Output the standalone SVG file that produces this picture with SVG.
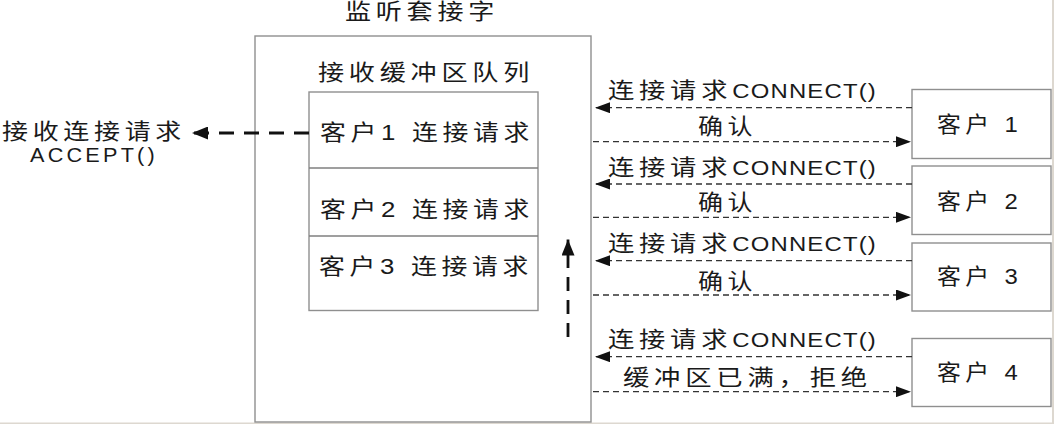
<svg xmlns="http://www.w3.org/2000/svg" width="1054" height="424" viewBox="0 0 1054 424">
  <style>
    .t { font-family: "Liberation Sans", "Noto Sans CJK SC", sans-serif; font-size: 22px; fill: #1a1a1a; letter-spacing: 4px; }
    .lat { font-size: 20px; letter-spacing: 1px; }
    .box { fill: #ffffff; stroke: #8f8f8f; stroke-width: 1.4; }
    .thin { stroke: #333333; stroke-width: 1.3; stroke-dasharray: 6 4; fill: none; }
    .thick { stroke: #111111; stroke-width: 2.8; fill: none; }
  </style>
  <defs>
    <marker id="ah" viewBox="0 0 15 11" refX="15" refY="5.5" markerWidth="15" markerHeight="11" markerUnits="userSpaceOnUse" orient="auto">
      <path d="M0,0 L15,5.5 L0,11 z" fill="#111111"/>
    </marker>
    <marker id="ahb" viewBox="0 0 16 13" refX="16" refY="6.5" markerWidth="16" markerHeight="13" markerUnits="userSpaceOnUse" orient="auto">
      <path d="M0,0 L16,6.5 L0,13 z" fill="#111111"/>
    </marker>
  </defs>
  <rect x="0" y="0" width="1054" height="424" fill="#ffffff"/>
  <rect x="0" y="422.5" width="1054" height="1.5" fill="#ddd8d0"/>
  <rect x="1052" y="0" width="2" height="424" fill="#ddd8d0"/>

  <g id="listen-socket">
    <rect class="box" x="255" y="36" width="336" height="386"/>
    <text class="t" x="345" y="19" textLength="154" lengthAdjust="spacingAndGlyphs">监听套接字</text>
    <text class="t" x="318" y="80" textLength="216" lengthAdjust="spacingAndGlyphs">接收缓冲区队列</text>
  </g>

  <g id="queue">
    <rect class="box" x="309" y="92" width="229" height="218.5" stroke="#7f7f7f"/>
    <line x1="309" y1="168" x2="538" y2="168" stroke="#7f7f7f" stroke-width="1.4"/>
    <line x1="309" y1="236" x2="538" y2="236" stroke="#7f7f7f" stroke-width="1.4"/>
    <text class="t" x="320" y="140" textLength="214" lengthAdjust="spacingAndGlyphs">客户1 连接请求</text>
    <text class="t" x="320" y="217" textLength="214" lengthAdjust="spacingAndGlyphs">客户2 连接请求</text>
    <text class="t" x="319" y="274" textLength="214" lengthAdjust="spacingAndGlyphs">客户3 连接请求</text>
  </g>

  <g id="accept-label">
    <text class="t" x="2" y="139" textLength="184" lengthAdjust="spacingAndGlyphs">接收连接请求</text>
    <text class="t" x="30" y="162" style="font-size:20px;letter-spacing:3px" textLength="128" lengthAdjust="spacingAndGlyphs">ACCEPT()</text>
  </g>

  <g id="client1">
    <rect class="box" x="912" y="89.5" width="139" height="69"/>
    <text class="t" x="937" y="132" textLength="85" lengthAdjust="spacingAndGlyphs">客户 1</text>
  </g>
  <g id="client2">
    <rect class="box" x="912" y="166" width="139" height="68.5"/>
    <text class="t" x="937" y="209" textLength="85" lengthAdjust="spacingAndGlyphs">客户 2</text>
  </g>
  <g id="client3">
    <rect class="box" x="912" y="243" width="139" height="68"/>
    <text class="t" x="937" y="284" textLength="85" lengthAdjust="spacingAndGlyphs">客户 3</text>
  </g>
  <g id="client4">
    <rect class="box" x="912" y="338.5" width="139" height="68"/>
    <text class="t" x="937" y="380" textLength="85" lengthAdjust="spacingAndGlyphs">客户 4</text>
  </g>

  <g id="connectors">
    <line class="thick" x1="309" y1="133" x2="192" y2="133" stroke-dasharray="15 10" marker-end="url(#ahb)"/>
    <line class="thick" x1="568" y1="337" x2="568" y2="239.5" stroke-dasharray="14 9" marker-end="url(#ahb)"/>

    <line class="thin" x1="912" y1="107.7" x2="595" y2="107.7" marker-end="url(#ah)"/>
    <line class="thin" x1="593" y1="141.7" x2="911" y2="141.7" marker-end="url(#ah)"/>
    <line class="thin" x1="912" y1="184" x2="595" y2="184" marker-end="url(#ah)"/>
    <line class="thin" x1="593" y1="217.3" x2="911" y2="217.3" marker-end="url(#ah)"/>
    <line class="thin" x1="912" y1="260.7" x2="595" y2="260.7" marker-end="url(#ah)"/>
    <line class="thin" x1="593" y1="295" x2="911" y2="295" marker-end="url(#ah)"/>
    <line class="thin" x1="912" y1="356.7" x2="595" y2="356.7" marker-end="url(#ah)"/>
    <line class="thin" x1="593" y1="391.7" x2="911" y2="391.7" marker-end="url(#ah)"/>

    <text class="t" x="608" y="98" textLength="269" lengthAdjust="spacingAndGlyphs">连接请求<tspan class="lat">CONNECT()</tspan></text>
    <text class="t" x="698" y="134" textLength="59" lengthAdjust="spacingAndGlyphs">确认</text>
    <text class="t" x="608" y="175" textLength="269" lengthAdjust="spacingAndGlyphs">连接请求<tspan class="lat">CONNECT()</tspan></text>
    <text class="t" x="698" y="210" textLength="59" lengthAdjust="spacingAndGlyphs">确认</text>
    <text class="t" x="608" y="251" textLength="269" lengthAdjust="spacingAndGlyphs">连接请求<tspan class="lat">CONNECT()</tspan></text>
    <text class="t" x="698" y="289" textLength="59" lengthAdjust="spacingAndGlyphs">确认</text>
    <text class="t" x="608" y="347" textLength="269" lengthAdjust="spacingAndGlyphs">连接请求<tspan class="lat">CONNECT()</tspan></text>
    <text class="t" x="623" y="385" textLength="249" lengthAdjust="spacingAndGlyphs">缓冲区已满，拒绝</text>
  </g>
</svg>
